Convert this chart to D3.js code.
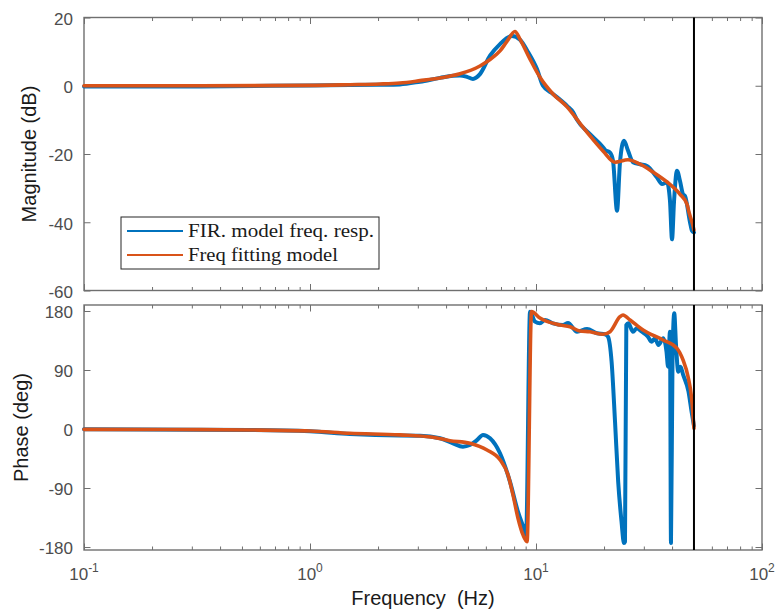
<!DOCTYPE html>
<meta charset="utf-8">
<style>
body { margin: 0; background: #fff; }
.tick-label { font-family: "Liberation Sans", Arial, sans-serif; font-size: 17px; fill: #4d4d4d; }
.axis-title { font-family: "Liberation Sans", Arial, sans-serif; font-size: 20px; fill: #1a1a1a; white-space: pre; }
.legend text { font-family: "Liberation Serif", "Times New Roman", serif; font-size: 18px; fill: #1a1a1a; }
</style>
<svg width="780" height="611"></svg>
<script src="https://d3js.org/d3.v7.min.js"></script>
<script>
// bode plot: FIR model response vs frequency fitting model

// magnitude (dB)
const magFirFreq = [0.1, 0.33, 1.0, 1.5, 2.0, 2.5, 3.07, 3.76, 4.29, 4.61, 4.95, 5.26, 5.65, 6.26, 6.93, 7.83, 8.5, 9.22, 10.1, 10.74, 11.89, 13.72, 14.58, 15.19, 17.34, 19.79, 20.2, 21.26, 21.92, 22.83, 23.53, 24.51, 25.53, 26.87, 28.86, 30.99, 34.31, 36.11, 37.98, 39.16, 39.98, 40.8, 42.06, 43.37, 44.72, 45.64, 48.03, 49.02, 50];
const magFir = [-0.2, -0.2, 0.1, 0.2, 0.3, 0.4, 1.2, 2.3, 2.9, 3.0, 2.6, 2.0, 3.4, 8.8, 12.2, 14.6, 13.5, 9.9, 4.9, 0.0, -2.4, -5.9, -7.7, -10.0, -14.2, -18.0, -18.8, -19.6, -22.0, -36.6, -22.4, -16.1, -19.0, -22.4, -23.0, -23.5, -26.9, -28.8, -28.3, -33.7, -45.0, -34.0, -24.9, -27.9, -31.8, -32.3, -40.0, -42.5, -43.0];

const magFitFreq = [0.1, 0.33, 1.0, 1.5, 2.04, 2.5, 3.07, 3.76, 4.61, 5.65, 6.26, 6.93, 7.44, 8.07, 8.5, 9.41, 10.41, 11.89, 13.72, 15.65, 17.34, 19.79, 22.37, 25.53, 28.86, 32.94, 37.98, 43.37, 46.57, 47.5, 49.52, 50];
const magFit = [0, 0, 0.1, 0.3, 0.5, 0.8, 1.5, 2.3, 3.5, 5.8, 7.7, 10.2, 13.0, 15.9, 13.6, 7.8, 2.5, -2.4, -6.2, -11.0, -14.7, -19.1, -22.4, -21.7, -23.0, -25.3, -28.2, -31.8, -34.7, -37.0, -41.1, -42.3];

// phase (deg)
const phaseFirFreq = [0.1, 0.54, 1.0, 1.5, 2.5, 3.07, 3.76, 4.29, 4.75, 5.1, 5.48, 5.83, 6.26, 6.93, 7.67, 8.32, 8.94, 9.04, 9.41, 9.9, 10.41, 10.96, 11.89, 13.17, 13.86, 15.19, 16.82, 18.62, 20.2, 20.83, 21.6, 22.37, 23.1, 23.9, 24.51, 24.76, 25.1, 25.6, 26.87, 27.9, 29.4, 31.3, 32.4, 33.62, 34.8, 36.6, 37.8, 38.4, 39.16, 39.56, 40.2, 40.9, 41.64, 42.6, 43.6, 44.8, 47.3, 48.8, 50];
const phaseFir = [-0.5, -1.5, -3.5, -7.5, -10, -10.2, -14.1, -21.8, -26.9, -24.4, -17, -9.1, -14.1, -37, -80.3, -126, -156.6, -161.6, 179, 163.7, 161.2, 166.3, 161.2, 158.6, 161.7, 148.4, 152.5, 146, 144.5, 140.8, 102.7, 11.2, -80.3, -141.3, -174, -172, 158.6, 161.2, 148.4, 153.6, 148.4, 140.8, 133.2, 138.4, 128.2, 138.4, 118, 95, 148.4, -174, 113, 176.5, 128.2, 87.4, 95, 82.4, 57, 26.4, 5];

const phaseFitFreq = [0.1, 0.33, 0.54, 1.0, 1.5, 2.5, 3.5, 4.16, 5.1, 6.07, 6.93, 7.52, 7.91, 8.32, 8.76, 9.13, 9.55, 10.41, 12.77, 14.14, 15.65, 17.34, 19.79, 21.26, 23.53, 24.26, 26.06, 29.76, 36.47, 42.06, 44.72, 47.06, 48.8, 50];
const phaseFit = [-0.5, -1, -1.5, -3, -6.5, -9, -12.6, -17.8, -21.8, -32, -47, -70, -100.6, -135.7, -161.6, -172, 179, 169.3, 158.6, 156, 149.5, 148.4, 144.5, 148.4, 171.3, 174, 166.3, 151, 135.8, 123, 105.3, 80, 47.3, 1.1];

const magTicks = [-60, -40, -20, 0, 20];
const phaseTicks = [-180, -90, 0, 90, 180];
const seriesNames = ["FIR. model freq. resp.", "Freq fitting model"];
const seriesColors = ["#0072BD", "#D95319"];
const nyquist = 50;

const svg = d3.select("svg");
const axisColor = "#6f6f6f";

const x = d3.scaleLog().domain([0.1, 100]).range([84, 762]);
const yMag = d3.scaleLinear().domain([-60, 20]).range([290.5, 17.5]);
const yPhase = d3.scaleLinear().domain([-180, 180]).range([547, 311]);

const allX = x.ticks();
const isDecade = t => Math.abs(Math.log10(t) - Math.round(Math.log10(t))) < 1e-9;
const majorX = allX.filter(isDecade);
const minorX = allX.filter(t => !isDecade(t));

const zip = (f, v) => f.map((d, i) => [d, v[i]]);

const panels = [
  {y: yMag, top: yMag(20), bottom: yMag(-60), ticks: magTicks, title: "Magnitude (dB)", titleX: 29,
   series: [zip(magFirFreq, magFir), zip(magFitFreq, magFit)], xLabels: false},
  {y: yPhase, top: 305, bottom: 550, ticks: phaseTicks, title: "Phase (deg)", titleX: 21,
   series: [zip(phaseFirFreq, phaseFir), zip(phaseFitFreq, phaseFit)], xLabels: true}
];

function styleAxis(g) {
  g.select(".domain").remove();
  g.attr("font-size", null).attr("font-family", null);
  g.selectAll("line").attr("stroke", axisColor).attr("stroke-width", 1);
  g.selectAll("text").attr("class", "tick-label").attr("fill", null);
}

panels.forEach(function(p) {
  const g = svg.append("g");

  // x ticks, inward on bottom and top
  [[d3.axisBottom, p.bottom], [d3.axisTop, p.top]].forEach(function(a) {
    g.append("g").attr("transform", "translate(0," + a[1] + ")")
      .call(a[0](x).tickValues(minorX).tickSize(-3.5).tickFormat(""))
      .call(styleAxis);
    g.append("g").attr("transform", "translate(0," + a[1] + ")")
      .call(a[0](x).tickValues(majorX).tickSize(-6.5).tickFormat(""))
      .call(styleAxis);
  });

  // y ticks
  g.append("g").attr("transform", "translate(" + x.range()[0] + ",0)")
    .call(d3.axisLeft(p.y).tickValues(p.ticks).tickSize(-6.5).tickPadding(11).tickFormat(d => String(d)))
    .call(styleAxis)
    .selectAll("text").attr("dy", "0.4em");
  g.append("g").attr("transform", "translate(" + x.range()[1] + ",0)")
    .call(d3.axisRight(p.y).tickValues(p.ticks).tickSize(-6.5).tickFormat(""))
    .call(styleAxis);

  // box
  g.append("rect")
    .attr("x", x.range()[0]).attr("y", p.top)
    .attr("width", x.range()[1] - x.range()[0]).attr("height", p.bottom - p.top)
    .attr("fill", "none").attr("stroke", axisColor).attr("stroke-width", 1.4);

  const line = d3.line()
    .x(d => x(d[0]))
    .y(d => p.y(d[1]))
    .curve(d3.curveMonotoneX);

  p.series.forEach(function(s, i) {
    g.append("path")
      .datum(s)
      .attr("d", line)
      .attr("fill", "none")
      .attr("stroke", seriesColors[i])
      .attr("stroke-width", i == 0 ? 4 : 3.6)
      .attr("stroke-linejoin", "round")
      .attr("stroke-linecap", "round");
  });

  // nyquist line
  g.append("line")
    .attr("x1", x(nyquist)).attr("x2", x(nyquist))
    .attr("y1", p.top).attr("y2", p.bottom)
    .attr("stroke", "#000").attr("stroke-width", 2);

  g.append("text")
    .attr("class", "axis-title")
    .attr("transform", "translate(" + p.titleX + "," + ((p.top + p.bottom) / 2) + ") rotate(-90)")
    .attr("text-anchor", "middle")
    .attr("dy", "0.35em")
    .text(p.title);

  if (p.xLabels) {
    const lab = g.selectAll(".xlab")
      .data(majorX)
      .enter()
      .append("text")
      .attr("class", "tick-label")
      .attr("x", d => x(d))
      .attr("y", 580)
      .attr("text-anchor", "middle");
    lab.append("tspan").text("10");
    lab.append("tspan")
      .attr("dy", -8)
      .attr("font-size", "12px")
      .text(d => String(Math.round(Math.log10(d))));
  }
});

svg.append("text")
  .attr("class", "axis-title")
  .attr("x", (x.range()[0] + x.range()[1]) / 2)
  .attr("y", 605)
  .attr("text-anchor", "middle")
  .text("Frequency  (Hz)");

// legend
const legend = svg.append("g").attr("class", "legend");
legend.append("rect")
  .attr("x", 121).attr("y", 217).attr("width", 258).attr("height", 52)
  .attr("fill", "#fff").attr("stroke", "#262626").attr("stroke-width", 1);

const items = legend.selectAll(".item")
  .data(seriesNames)
  .enter()
  .append("g")
  .attr("transform", (d, i) => "translate(127," + (231 + i * 24) + ")");
items.append("line")
  .attr("x1", 0).attr("x2", 56)
  .attr("stroke", (d, i) => seriesColors[i])
  .attr("stroke-width", 2);
items.append("text")
  .attr("x", 61)
  .attr("dy", "0.35em")
  .attr("textLength", (d, i) => i == 0 ? 186 : 150)
  .attr("lengthAdjust", "spacingAndGlyphs")
  .text(d => d);
</script>
